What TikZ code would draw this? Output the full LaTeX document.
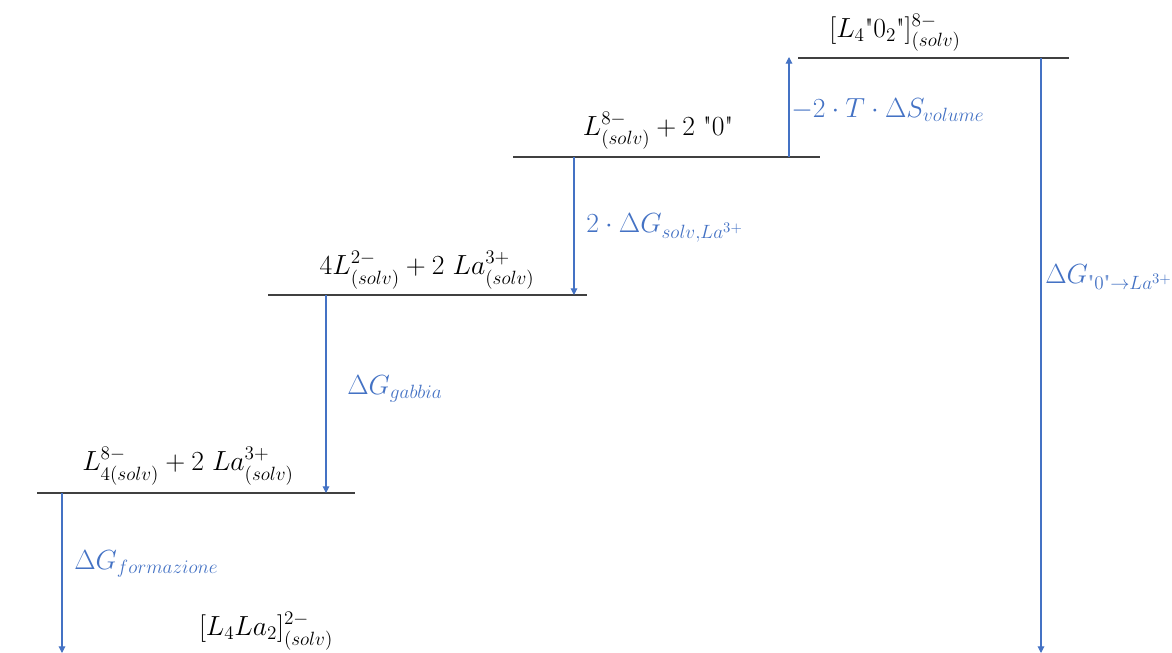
\documentclass[tikz,border=0pt]{standalone}
\usepackage{amsmath}
\usetikzlibrary{arrows.meta}
\definecolor{arrblue}{HTML}{4472C4}
\definecolor{lvl}{HTML}{404040}
\DeclareMathSizes{20}{20}{15}{11}
\newcommand{\qq}{\text{\textquotedbl}}
\begin{document}
\begin{tikzpicture}[x=0.75pt,y=-0.75pt,
  level/.style={draw=lvl, line width=0.9pt},
  arr/.style={draw=arrblue, line width=0.8pt, -{Triangle[width=5pt,length=5pt]}},
  lab/.style={font=\fontsize{20}{24}\selectfont, inner sep=0pt},
  blab/.style={lab, text=arrblue, anchor=west}]
\useasboundingbox (0,0) rectangle (1172,653);
% level lines
\coordinate (a1) at (798,58);  \coordinate (a2) at (1069,58);
\coordinate (b1) at (513,157); \coordinate (b2) at (820,157);
\coordinate (c1) at (268,295); \coordinate (c2) at (587,295);
\coordinate (d1) at (37,493);  \coordinate (d2) at (355,493);
\draw[level] (a1) -- (a2);
\draw[level] (b1) -- (b2);
\draw[level] (c1) -- (c2);
\draw[level] (d1) -- (d2);
% arrow end points
\coordinate (u0) at (789,157); \coordinate (u1) at (789,57);
\coordinate (s0) at (574,157); \coordinate (s1) at (574,295);
\coordinate (g0) at (326,295); \coordinate (g1) at (326,493);
\coordinate (f0) at (62,493);  \coordinate (f1) at (62,653);
\coordinate (t0) at (1041,58); \coordinate (t1) at (1041,653);
\draw[arr] (u0) -- (u1);
\draw[arr] (s0) -- (s1);
\draw[arr] (g0) -- (g1);
\draw[arr] (f0) -- (f1);
\draw[arr] (t0) -- (t1);
% species labels
\node[lab] (na) at (895,33) {$[L_4\qq0_2\qq]^{8-}_{(solv)}$};
\node[lab] (nb) at (658,131) {$L^{8-}_{(solv)}+2\ \qq0\qq$};
\node[lab] (nc) at (427,270) {$4L^{2-}_{(solv)}+2\ La^{3+}_{(solv)}$};
\node[lab] (nd) at (188,466) {$L^{8-}_{4(solv)}+2\ La^{3+}_{(solv)}$};
\node[lab] (ne) at (266,631) {$[L_4La_2]^{2-}_{(solv)}$};
% energy labels
\node[blab] (lu) at (791,110) {$-2\cdot T\cdot\Delta S_{volume}$};
\node[blab] (ls) at (586,228) {$2\cdot\Delta G_{solv,La^{3+}}$};
\node[blab] (lg) at (347,389) {$\Delta G_{gabbia}$};
\node[blab] (lf) at (74,564) {$\Delta G_{formazione}$};
\node[blab] (lt) at (1045,277) {$\Delta G_{\qq0\qq\rightarrow La^{3+}}$};
\end{tikzpicture}
\end{document}
